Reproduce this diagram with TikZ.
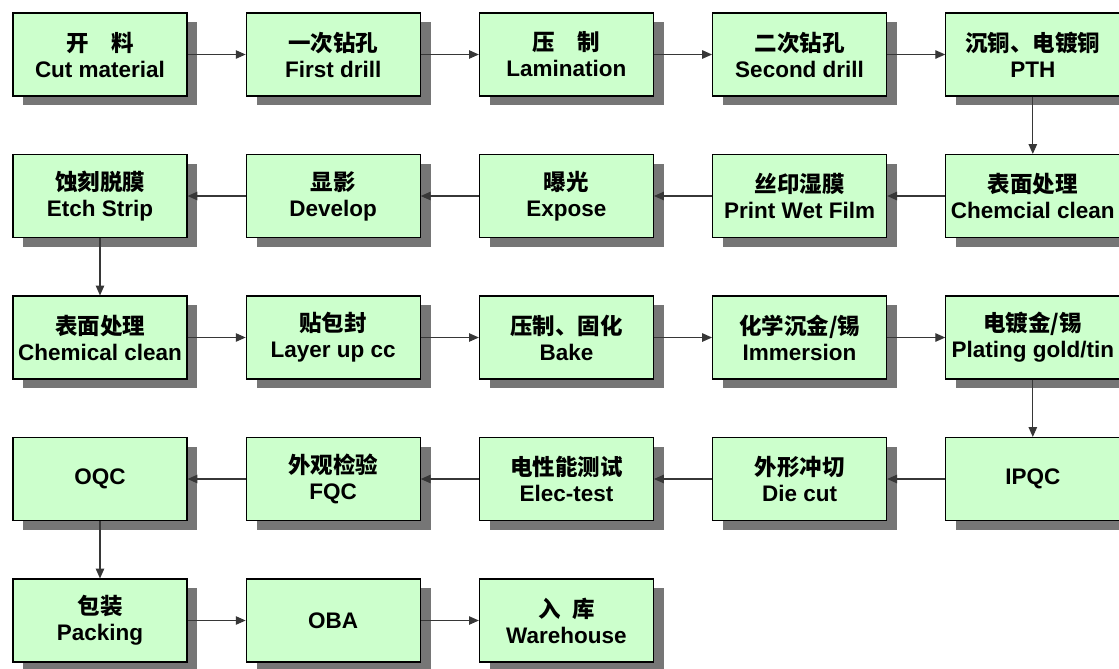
\documentclass[tikz,border=0pt]{standalone}
\usepackage{fontspec}
\setmainfont{Liberation Sans}
\newfontfamily\cjk{Noto Sans CJK SC}
\usetikzlibrary{arrows.meta,shapes,positioning,shadows}
\definecolor{pcbgreen}{RGB}{204,255,204}
\definecolor{pcbshadow}{RGB}{118,118,118}
\definecolor{pcbline}{RGB}{55,55,55}
\newcommand{\zh}[1]{{\cjk #1}}
\tikzstyle{arrow} = [line width=0.8pt,->,>={Stealth[length=7pt,width=6pt,inset=0pt]},color=pcbline]
\tikzstyle{process} = [rectangle, minimum width=4.35cm, minimum height=2.075cm, inner sep=2pt, text centered, align=center, draw=black, line width=0.8pt, fill=pcbgreen, font=\fontsize{16}{18.5}\selectfont\bfseries, drop shadow={shadow xshift=0.26cm, shadow yshift=-0.23cm, fill=pcbshadow, opacity=1}]

\begin{document}
\begin{tikzpicture}
\path[use as bounding box, fill=white] (0,0) rectangle (27.975,-16.7);

% Row 1: left to right
\node (cut) [process] at (2.5,-1.3625) {\zh{开　料}\\Cut material};
\node (drill1) [process, right of=cut, node distance=5.83cm] {\zh{一次钻孔}\\First drill};
\node (lam) [process, right of=drill1, node distance=5.83cm] {\zh{压　制}\\Lamination};
\node (drill2) [process, right of=lam, node distance=5.83cm] {\zh{二次钻孔}\\Second drill};
\node (pth) [process, right of=drill2, node distance=5.83cm] {\zh{沉铜、电镀铜}\\PTH};

% Row 2: right to left
\node (clean1) [process, below of=pth, node distance=3.5375cm] {\zh{表面处理}\\Chemcial clean};
\node (wetfilm) [process, left of=clean1, node distance=5.83cm] {\zh{丝印湿膜}\\Print Wet Film};
\node (expose) [process, left of=wetfilm, node distance=5.83cm] {\zh{曝光}\\Expose};
\node (develop) [process, left of=expose, node distance=5.83cm] {\zh{显影}\\Develop};
\node (etch) [process, left of=develop, node distance=5.83cm] {\zh{蚀刻脱膜}\\Etch Strip};

% Row 3: left to right
\node (clean2) [process, below of=etch, node distance=3.5375cm] {\zh{表面处理}\\Chemical clean};
\node (layup) [process, right of=clean2, node distance=5.83cm] {\zh{贴包封}\\Layer up cc};
\node (bake) [process, right of=layup, node distance=5.83cm] {\zh{压制、固化}\\Bake};
\node (immersion) [process, right of=bake, node distance=5.83cm] {\zh{化学沉金/锡}\\Immersion};
\node (plating) [process, right of=immersion, node distance=5.83cm] {\zh{电镀金/锡}\\Plating gold/tin};

% Row 4: right to left
\node (ipqc) [process, below of=plating, node distance=3.5375cm] {IPQC};
\node (diecut) [process, left of=ipqc, node distance=5.83cm] {\zh{外形冲切}\\Die cut};
\node (etest) [process, left of=diecut, node distance=5.83cm] {\zh{电性能测试}\\Elec-test};
\node (fqc) [process, left of=etest, node distance=5.83cm] {\zh{外观检验}\\FQC};
\node (oqc) [process, left of=fqc, node distance=5.83cm] {OQC};

% Row 5: left to right
\node (packing) [process, below of=oqc, node distance=3.5375cm] {\zh{包装}\\Packing};
\node (oba) [process, right of=packing, node distance=5.83cm] {OBA};
\node (warehouse) [process, right of=oba, node distance=5.83cm] {\zh{入\hspace{0.5em}库}\\Warehouse};

% Flow arrows
\draw[arrow] (cut) -- (drill1);
\draw[arrow] (drill1) -- (lam);
\draw[arrow] (lam) -- (drill2);
\draw[arrow] (drill2) -- (pth);
\draw[arrow] (pth) -- (clean1);
\draw[arrow] (clean1) -- (wetfilm);
\draw[arrow] (wetfilm) -- (expose);
\draw[arrow] (expose) -- (develop);
\draw[arrow] (develop) -- (etch);
\draw[arrow] (etch) -- (clean2);
\draw[arrow] (clean2) -- (layup);
\draw[arrow] (layup) -- (bake);
\draw[arrow] (bake) -- (immersion);
\draw[arrow] (immersion) -- (plating);
\draw[arrow] (plating) -- (ipqc);
\draw[arrow] (ipqc) -- (diecut);
\draw[arrow] (diecut) -- (etest);
\draw[arrow] (etest) -- (fqc);
\draw[arrow] (fqc) -- (oqc);
\draw[arrow] (oqc) -- (packing);
\draw[arrow] (packing) -- (oba);
\draw[arrow] (oba) -- (warehouse);
\end{tikzpicture}
\end{document}
